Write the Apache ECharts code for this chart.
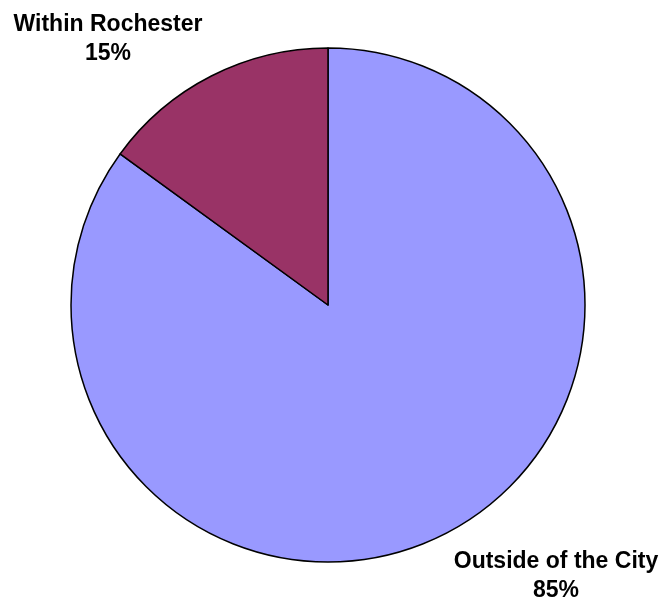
<!DOCTYPE html>
<html>
<head>
<meta charset="utf-8">
<script src="https://cdn.jsdelivr.net/npm/echarts@6/dist/echarts.min.js"></script>
<style>html,body{margin:0;padding:0;background:#fff}#c{width:661px;height:601px}</style>
</head>
<body>
<div id="c"></div>
<script>
const categories = ['Outside of the City', 'Within Rochester'];
const values = [85, 15];
const colors = ['#9999FF', '#993366'];
const labelPos = [[556, 576], [108, 39]];

const chart = echarts.init(document.getElementById('c'), null, {renderer: 'canvas'});
chart.setOption({
  animation: false,
  backgroundColor: '#ffffff',
  series: [{
    type: 'pie',
    center: [328, 305],
    radius: 257,
    startAngle: 90,
    clockwise: true,
    avoidLabelOverlap: false,
    data: categories.map((c, i) => ({name: c, value: values[i], itemStyle: {color: colors[i]}})),
    itemStyle: {borderColor: '#000', borderWidth: 1.5},
    label: {
      show: true,
      position: 'outside',
      formatter: '{b}\n{d}%',
      fontFamily: 'Liberation Sans, Arial, sans-serif',
      fontWeight: 'bold',
      fontSize: 23,
      lineHeight: 29,
      color: '#000',
      align: 'center',
      overflow: 'none',
      width: 300
    },
    labelLine: {show: false},
    labelLayout: function (p) {
      return {x: labelPos[p.dataIndex][0], y: labelPos[p.dataIndex][1], align: 'center', verticalAlign: 'middle'};
    },
    emphasis: {disabled: true}
  }]
});
</script>
</body>
</html>
